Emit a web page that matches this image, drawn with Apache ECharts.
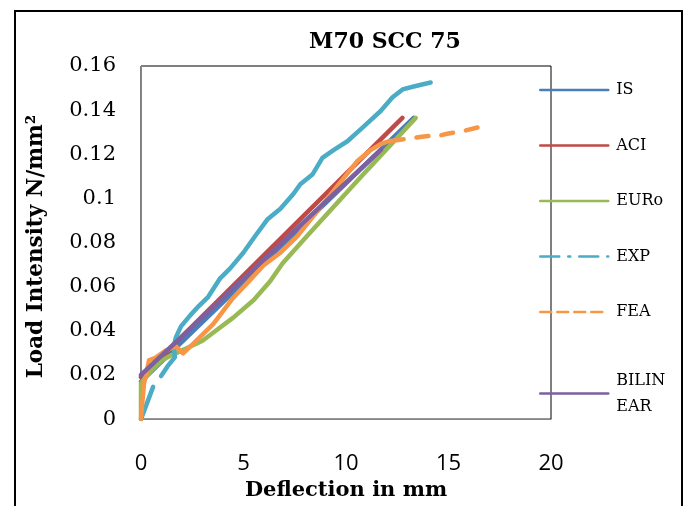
<!DOCTYPE html>
<html>
<head>
<meta charset="utf-8">
<script src="https://cdn.jsdelivr.net/npm/echarts@6/dist/echarts.min.js"></script>
<style>html,body{margin:0;padding:0;background:#fff}#c{width:688px;height:506px}</style>
</head>
<body>
<div id="c"></div>
<script>
var titleText = 'M70 SCC 75';
var xName = 'Deflection in mm';
var yName = 'Load Intensity N/mm\u00B2';
var seriesNames = ['IS', 'ACI', 'EURo', 'EXP', 'FEA', 'BILINEAR'];

var isData = [[0,0.017],[0.5,0.0215],[1,0.026],[13.3,0.1365]];
var aciData = [[0,0.019],[12.75,0.1365]];
var euroData = [[0,0],[0,0.016],[0.1,0.0175],[0.5,0.022],[1,0.0265],[1.5,0.029],[2.2,0.032],[3,0.0355],[3.5,0.039],[4.5,0.046],[5.5,0.054],[6.3,0.0625],[6.9,0.0705],[8,0.082],[10.7,0.1095],[13.4,0.1365]];
var expData = [[0,0],[0.59,0.0146],'-',[0.98,0.0195],[1.3,0.024],[1.65,0.028],[1.6,0.033],[1.7,0.037],[1.95,0.042],[2.4,0.047],[2.74,0.0505],[3.28,0.0554],[3.86,0.0638],[4.35,0.0683],[4.99,0.0754],[5.57,0.083],[6.16,0.0904],[6.8,0.0953],[7.43,0.102],[7.77,0.1064],[8.36,0.1108],[8.85,0.1184],[9.39,0.1219],[10.07,0.1259],[10.86,0.1325],[11.69,0.1396],[12.27,0.1458],[12.76,0.1494],[13.3,0.1507],[14.13,0.1525]];
var feaData = [[0,0],[0.05,0.006],[0.15,0.0164],[0.24,0.0195],[0.39,0.0266],[0.7,0.0278],[1.2,0.031],[1.7,0.033],[2.05,0.0298],[2.54,0.0341],[3.52,0.043],[4.5,0.055],[5.18,0.0616],[5.97,0.0696],[6.8,0.0754],[7.63,0.0829],[9.7,0.107],[10.56,0.117],[11.2,0.1219],[11.69,0.1246],[12.08,0.1259],[12.81,0.1268]];
var feaTail = [[12.81,0.1268],[13.79,0.1281],[14.62,0.1286],[15.0,0.1294],[15.84,0.1308],[17.0,0.1335]];
var bilinearData = [[0,0.02],[11.7,0.122]];

var colors = {IS:'#4A7EBB', ACI:'#BE4B48', EURo:'#98B954', EXP:'#4BACC6', FEA:'#F79646', BILINEAR:'#7D60A0'};

function mk(name, data, extra) {
  var s = {
    name: name, type: 'line', data: data, symbol: 'none', connectNulls: false,
    lineStyle: {color: colors[name], width: 4.5, cap: 'round', join: 'round'},
    itemStyle: {color: colors[name]},
    emphasis: {disabled: true}, animation: false
  };
  if (extra) { for (var k in extra) s.lineStyle[k] = extra[k]; }
  return s;
}

var chart = echarts.init(document.getElementById('c'), null, {renderer: 'canvas'});
chart.setOption({
  backgroundColor: '#fff',
  animation: false,
  title: {
    text: titleText, left: 380, top: 26, textAlign: 'center',
    textStyle: {fontFamily: 'DejaVu Serif', fontWeight: 'bold', fontSize: 22, color: '#000'}
  },
  graphic: [{
    type: 'rect', shape: {x: 15, y: 11, width: 667, height: 530},
    style: {fill: 'none', stroke: '#000', lineWidth: 2}, silent: true, z: 100
  }],
  grid: {left: 141, right: 137, top: 66, bottom: 79, show: true, borderColor: '#000', borderWidth: 1, containLabel: false},
  legend: {
    orient: 'vertical', left: 534, top: 72, itemWidth: 68, itemHeight: 14, itemGap: 29.5,
    textStyle: {fontFamily: 'DejaVu Serif', fontSize: 16, color: '#000', lineHeight: 26, padding: [0,0,0,3]},
    lineStyle: {width: 2.5},
    itemStyle: {opacity: 0},
    data: [
      {name: 'IS'}, {name: 'ACI'}, {name: 'EURo'},
      {name: 'EXP', lineStyle: {type: [19, 9, 2, 9], width: 2.5}},
      {name: 'FEA', lineStyle: {type: [11, 6], width: 2.5}},
      {name: 'BILINEAR', textStyle: {padding: [26, 0, 0, 3]}}
    ],
    formatter: function (n) { return n === 'BILINEAR' ? 'BILIN\nEAR' : n; }
  },
  xAxis: {
    type: 'value', min: 0, max: 20, interval: 5,
    name: xName, nameLocation: 'middle', nameGap: 57,
    nameTextStyle: {fontFamily: 'DejaVu Serif', fontWeight: 'bold', fontSize: 21, color: '#000'},
    axisLine: {show: true, lineStyle: {color: '#868686', width: 1}},
    axisTick: {show: false},
    splitLine: {show: false},
    axisLabel: {margin: 34, fontFamily: 'Open Sans', fontSize: 22, color: '#000'}
  },
  yAxis: {
    type: 'value', min: 0, max: 0.16, interval: 0.02,
    name: yName, nameLocation: 'middle', nameGap: 94, nameRotate: 90,
    nameTextStyle: {fontFamily: 'DejaVu Serif', fontWeight: 'bold', fontSize: 21.5, color: '#000', padding: [0, 8, 0, 0]},
    axisLine: {show: true, lineStyle: {color: '#868686', width: 1}},
    axisTick: {show: false},
    splitLine: {show: false},
    axisLabel: {margin: 25, fontFamily: 'DejaVu Serif', fontSize: 21, color: '#000',
      formatter: function (v) { return String(+v.toFixed(2)); }}
  },
  series: [
    mk('IS', isData),
    mk('ACI', aciData),
    mk('EURo', euroData),
    mk('EXP', expData),
    mk('FEA', feaData),
    (function(){ var s = mk('FEA', feaTail, {type: [12, 13], dashOffset: 12}); s.legendHoverLink = false; return s; })(),
    mk('BILINEAR', bilinearData)
  ]
});
</script>
</body>
</html>
